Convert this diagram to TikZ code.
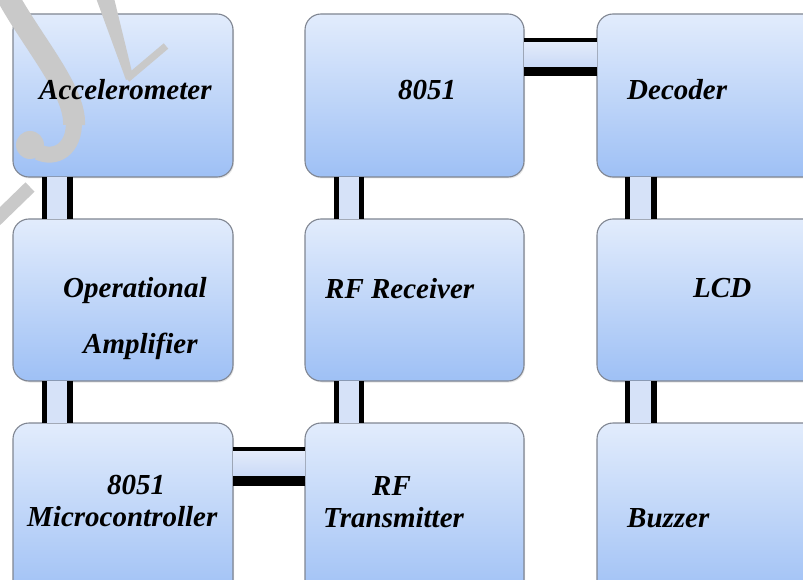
\documentclass[tikz,border=0pt]{standalone}
\usepackage{fontspec}
\setmainfont{Liberation Serif}
\usetikzlibrary{shadows}
\definecolor{boxtop}{RGB}{226,236,252}
\definecolor{boxbot}{RGB}{158,192,245}
\definecolor{boxedge}{RGB}{128,134,146}
\definecolor{connfill}{RGB}{214,226,248}
\definecolor{conntop}{RGB}{230,237,251}
\definecolor{connbot}{RGB}{196,214,246}
\definecolor{wmgray}{RGB}{201,201,201}
\tikzset{
  box/.style={rectangle, rounded corners=16pt, draw=boxedge, line width=1.1pt,
    top color=boxtop, bottom color=boxbot, inner sep=0pt, outer sep=0pt,
    drop shadow={opacity=0.2, shadow xshift=1pt, shadow yshift=-1.5pt}},
  lbl/.style={font=\fontsize{29}{34}\selectfont\bfseries\itshape, inner sep=0pt, anchor=base west, text=black},
  vbar/.style={line width=5.5pt, draw=black},
  wm/.style={draw=wmgray, fill=wmgray}
}
\begin{document}
\begin{tikzpicture}[x=1pt,y=-1pt]
\clip (0,0) rectangle (803,580);
\fill[white] (0,0) rectangle (803,580);
% boxes
\node[box, minimum width=220pt, minimum height=163pt] (acc) at (123,95.5) {};
\node[box, minimum width=219pt, minimum height=163pt] (uc) at (414.5,95.5) {};
\node[box, minimum width=233pt, minimum height=163pt] (dec) at (713.5,95.5) {};
\node[box, minimum width=220pt, minimum height=162pt] (amp) at (123,300) {};
\node[box, minimum width=219pt, minimum height=162pt] (rx) at (414.5,300) {};
\node[box, minimum width=233pt, minimum height=162pt] (lcd) at (713.5,300) {};
\node[box, minimum width=220pt, minimum height=177pt] (mcu) at (123,511.5) {};
\node[box, minimum width=219pt, minimum height=177pt] (tx) at (414.5,511.5) {};
\node[box, minimum width=233pt, minimum height=177pt] (buz) at (713.5,511.5) {};
% vertical connectors
\foreach \a/\b/\l/\r in {acc/amp/31.5/57, amp/mcu/31.5/57, uc/rx/31.5/56.5, rx/tx/31.5/56.5, dec/lcd/30.5/57, lcd/buz/30.5/57}{
  \fill[connfill] ([xshift=\l pt]\a.south west) rectangle ([xshift=\r pt]\b.north west);
  \draw[vbar] ([xshift=\l pt]\a.south west) -- ([xshift=\l pt]\b.north west);
  \draw[vbar] ([xshift=\r pt]\a.south west) -- ([xshift=\r pt]\b.north west);
}
% horizontal connectors
\shade[top color=conntop, bottom color=connbot] ([yshift=-26pt]uc.north east) rectangle ([yshift=-57.5pt]dec.north west);
\draw[line width=4pt] ([yshift=-26pt]uc.north east) -- ([yshift=-26pt]dec.north west);
\draw[line width=9pt] ([yshift=-57.5pt]uc.north east) -- ([yshift=-57.5pt]dec.north west);
\shade[top color=conntop, bottom color=connbot] ([yshift=-26pt]mcu.north east) rectangle ([yshift=-58pt]tx.north west);
\draw[line width=4pt] ([yshift=-26pt]mcu.north east) -- ([yshift=-26pt]tx.north west);
\draw[line width=10pt] ([yshift=-58pt]mcu.north east) -- ([yshift=-58pt]tx.north west);
% watermark fragment
\draw[wmgray, line width=22pt] (4,-10) .. controls (30,40) and (76,90) .. (74,125);
\draw[wmgray, line width=16pt] (74,120) .. controls (75,150) and (55,160) .. (38,152);
\fill[wmgray] (30,145) circle (14pt);
\fill[wmgray] (96,-2) -- (114,-2) -- (133,76) -- (126,80) -- cycle;
\draw[wmgray, line width=7pt] (166,46) -- (127,79);
\draw[wmgray, line width=13pt] (-5,221) -- (30,187);
% labels
\node[lbl] (tacc) at (39,100) {Accelerometer};
\node[lbl] (tuc) at (398,100) {8051};
\node[lbl] (tdec) at (627,100) {Decoder};
\node[lbl] (tamp1) at (63,297) {Operational};
\node[lbl] (tamp2) at (83,353) {Amplifier};
\node[lbl] (trx) at (325,298) {RF Receiver};
\node[lbl] (tlcd) at (693,297) {LCD};
\node[lbl] (tmcu1) at (107,494) {8051};
\node[lbl] (tmcu2) at (27,526) {Microcontroller};
\node[lbl] (ttx1) at (372,495) {RF};
\node[lbl] (ttx2) at (323,527) {Transmitter};
\node[lbl] (tbuz) at (627,527) {Buzzer};
\end{tikzpicture}
\end{document}
